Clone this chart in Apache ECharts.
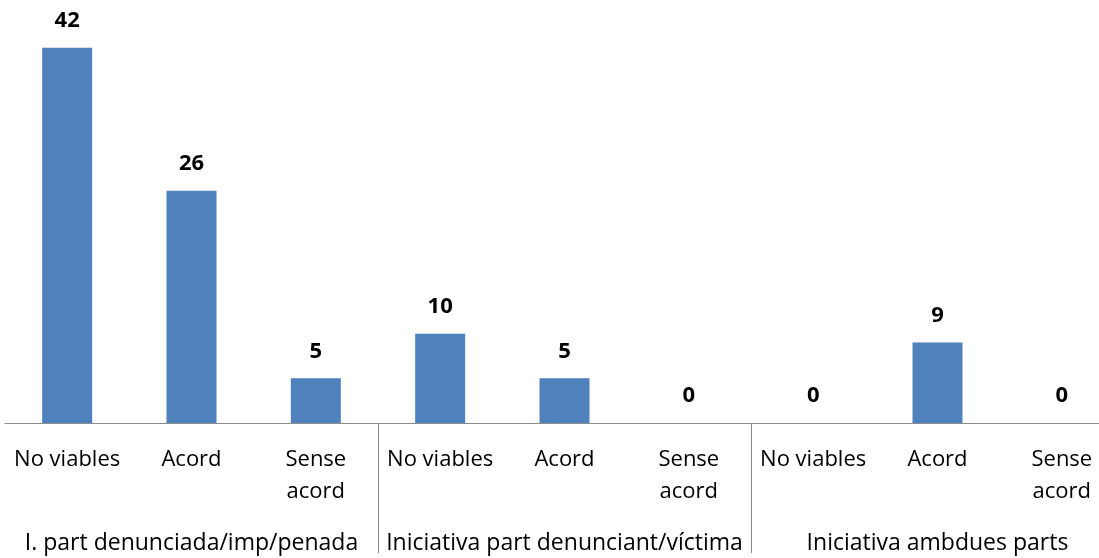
<!DOCTYPE html>
<html>
<head>
<meta charset="utf-8">
<script src="https://cdn.jsdelivr.net/npm/echarts@6/dist/echarts.min.js"></script>
<style>
html,body{margin:0;padding:0;background:#fff;}
#chart{width:1099px;height:558px;}
</style>
</head>
<body>
<div id="chart"></div>
<script>
const categories = ['No viables', 'Acord', 'Sense\nacord', 'No viables', 'Acord', 'Sense\nacord', 'No viables', 'Acord', 'Sense\nacord'];
const groups = ['I. part denunciada/imp/penada', 'Iniciativa part denunciant/víctima', 'Iniciativa ambdues parts'];
const values = [42, 26, 5, 10, 5, 0, 0, 9, 0];

const FONT = 'Open Sans';
const chart = echarts.init(document.getElementById('chart'));
chart.setOption({
  animation: false,
  grid: { left: 5, width: 1119, top: 21, bottom: 135, containLabel: false, outerBoundsMode: 'none' },
  xAxis: [
    {
      type: 'category',
      data: categories,
      axisLine: { show: true, lineStyle: { color: '#8c8c8c', width: 1 } },
      axisTick: { show: false },
      axisLabel: {
        interval: 0, margin: 21, color: '#000', fontFamily: FONT, fontSize: 22,
        lineHeight: 32, verticalAlign: 'top', hideOverlap: false
      }
    },
    {
      type: 'category',
      data: groups,
      position: 'bottom',
      axisLine: { show: false },
      axisTick: {
        show: true, length: 130, inside: false,
        interval: function (i) { return i > 0; },
        lineStyle: { color: '#8c8c8c', width: 1 }
      },
      axisLabel: {
        interval: 0, margin: 108, color: '#000', fontFamily: FONT, fontSize: 23,
        lineHeight: 24, verticalAlign: 'top'
      }
    }
  ],
  yAxis: {
    type: 'value', min: 0, max: 45, show: false,
    splitLine: { show: false }
  },
  series: [{
    type: 'bar',
    data: values,
    barWidth: 50,
    itemStyle: { color: '#4f81bd' },
    label: {
      show: true, position: 'top', distance: 16,
      color: '#000', fontFamily: FONT, fontWeight: 'bold', fontSize: 22
    }
  }]
});
</script>
</body>
</html>
